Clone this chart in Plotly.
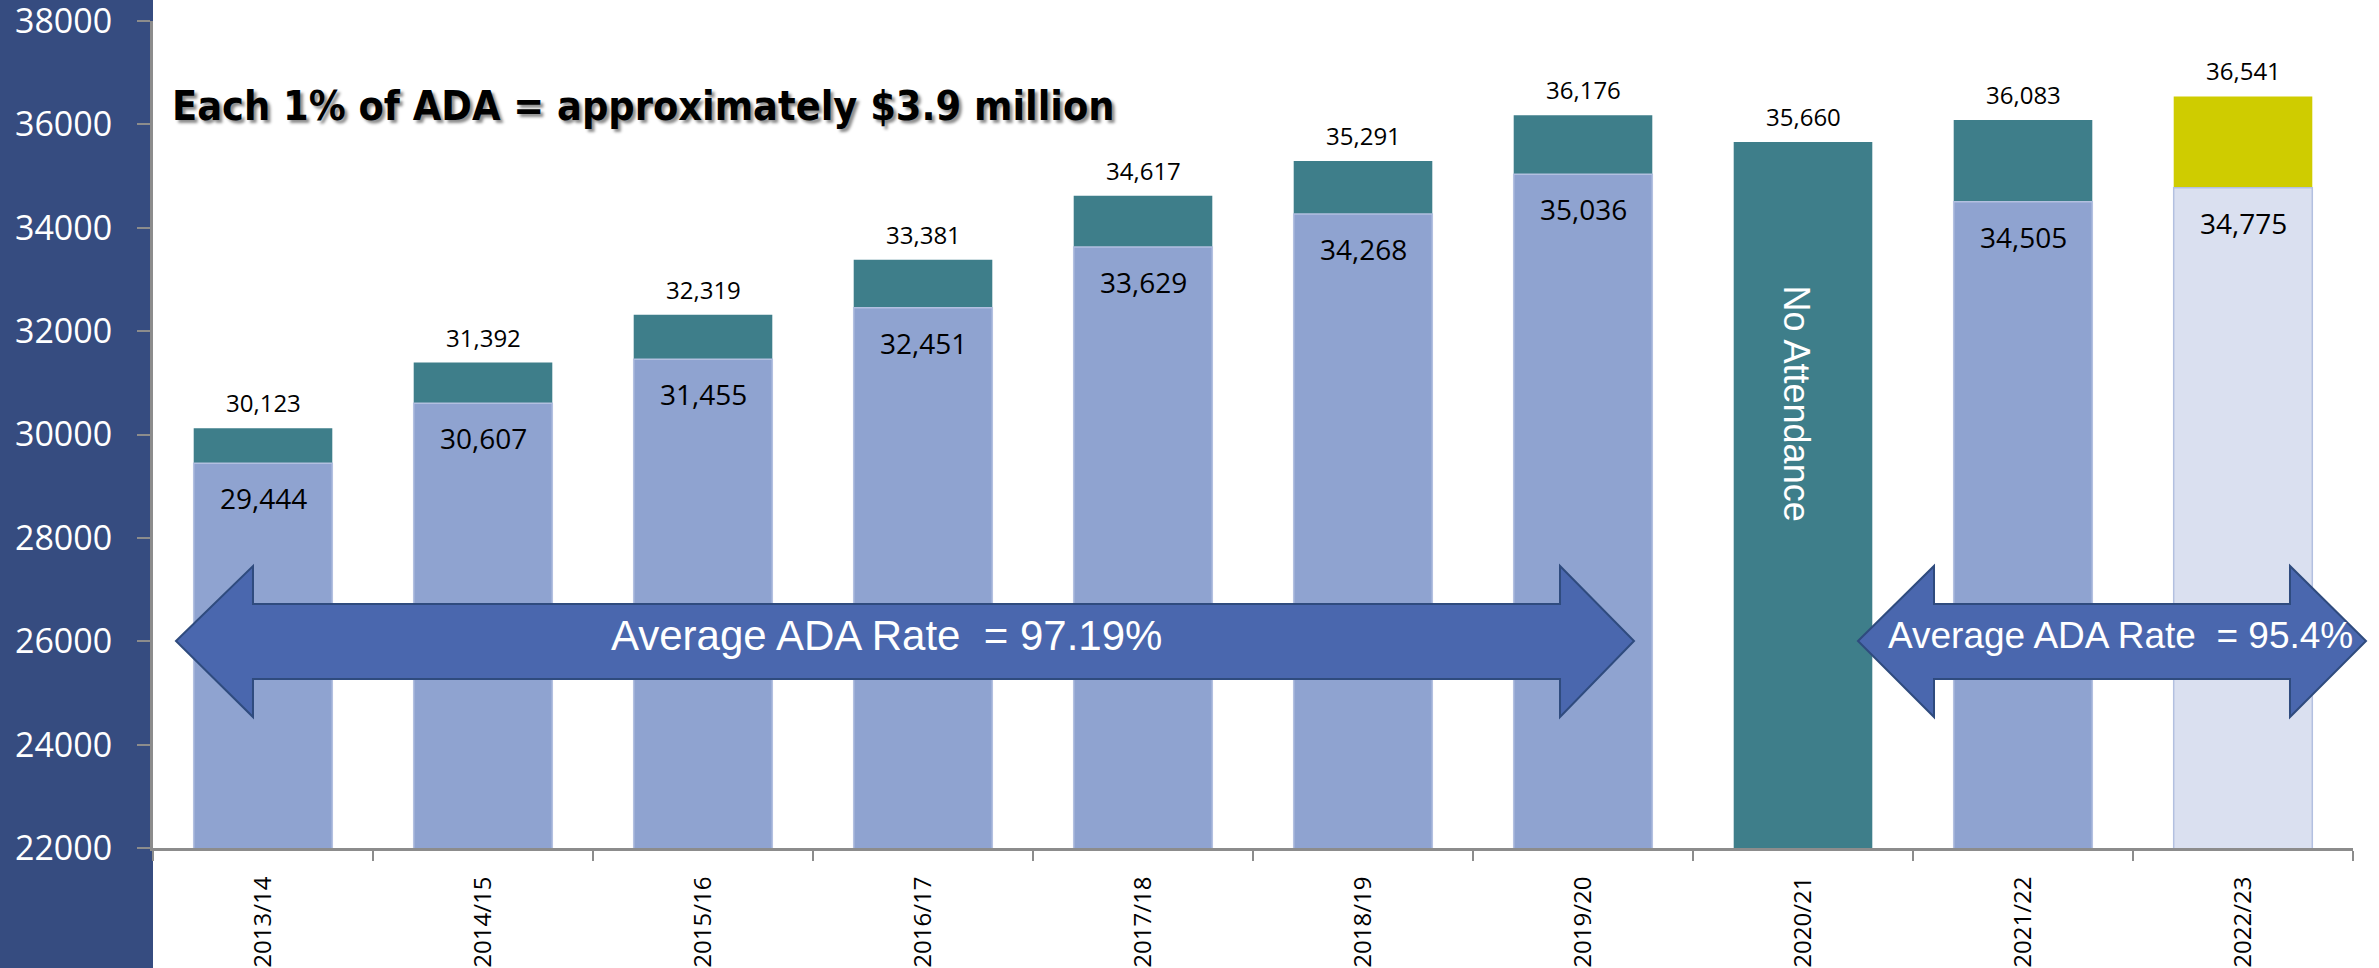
import plotly.graph_objects as go

# school years on the x axis
years = ["2013/14", "2014/15", "2015/16", "2016/17", "2017/18",
         "2018/19", "2019/20", "2020/21", "2021/22", "2022/23"]
# enrollment (top of each bar) and ADA (inner lighter bar)
enrollment = [30123, 31392, 32319, 33381, 34617, 35291, 36176, 35660, 36083, 36541]
ada = [29444, 30607, 31455, 32451, 33629, 34268, 35036, None, 34505, 34775]

y_ticks = list(range(22000, 38001, 2000))

TEAL = "#3E7E8A"
GOLD = "#CFCC00"
LIGHT = "#8FA3D0"
PALE = "#DAE0F0"
PANEL = "#364C80"
ARROW = "#4A67AE"
GRAY = "#8C8C8C"

W, H = 2379, 968
ML, MR, MT, MB = 153, 26, 21, 120
PW, PH = W - ML - MR, H - MT - MB


def px_x(p):
    return (p - ML) / PW


def px_y(p):
    return (H - MB - p) / PH


def arrow_path(xl, xhl, xhr, xr, st, sb, ht, hb, tip):
    pts = [(xl, tip), (xhl, ht), (xhl, st), (xhr, st), (xhr, ht), (xr, tip),
           (xhr, hb), (xhr, sb), (xhl, sb), (xhl, hb)]
    s = "M " + " L ".join(f"{px_x(a):.5f},{px_y(b):.5f}" for a, b in pts) + " Z"
    return s


top_colors = [TEAL] * (len(years) - 1) + [GOLD]
ada_colors = [LIGHT] * (len(years) - 1) + [PALE]

fig = go.Figure()
fig.add_trace(go.Bar(x=years, y=enrollment, width=0.63, marker=dict(color=top_colors, line=dict(width=0)),
                     hoverinfo="x+y", name="Enrollment"))
fig.add_trace(go.Bar(x=years, y=ada, width=0.63,
                     marker=dict(color=ada_colors, line=dict(color="#B3C0E0", width=1.5)),
                     hoverinfo="x+y", name="ADA"))

annotations = []
label_font = "Segoe UI, Open Sans, sans-serif"
for yr, e in zip(years, enrollment):
    annotations.append(dict(x=yr, y=e, text=f"{e:,}", showarrow=False, yanchor="bottom", yshift=7,
                            font=dict(family=label_font, size=24, color="black")))
for yr, a in zip(years, ada):
    if a is None:
        continue
    annotations.append(dict(x=yr, y=a, text=f"{a:,}", showarrow=False, yanchor="top", yshift=-14,
                            font=dict(family=label_font, size=28, color="black")))

# No Attendance text inside the 2020/21 bar
annotations.append(dict(x="2020/21", y=30600, text="No Attendance", showarrow=False, textangle=90,
                        xshift=-6, font=dict(family="Liberation Sans, Arial, sans-serif", size=36, color="white")))

# headline with drop shadow
annotations.append(dict(xref="paper", yref="paper", x=px_x(170), y=px_y(106), xanchor="left",
                        yanchor="middle", text="Each 1% of ADA = approximately $3.9 million", showarrow=False,
                        font=dict(family="Liberation Sans Narrow, Arial Narrow, DejaVu Sans Condensed, sans-serif",
                                  size=41, color="black", weight=700,
                                  shadow="3px 3px 3px rgba(0,0,0,0.45)")))

# arrow captions
annotations.append(dict(xref="paper", yref="paper", x=px_x(886), y=px_y(635), xanchor="center", yanchor="middle",
                        text="Average ADA Rate  = 97.19%", showarrow=False,
                        font=dict(family="Liberation Sans, Arial, sans-serif", size=42, color="white")))
annotations.append(dict(xref="paper", yref="paper", x=px_x(2120), y=px_y(635), xanchor="center", yanchor="middle",
                        text="Average ADA Rate  = 95.4%", showarrow=False,
                        font=dict(family="Liberation Sans, Arial, sans-serif", size=37, color="white")))

shapes = [
    # dark blue panel behind the y axis labels
    dict(type="rect", xref="paper", yref="paper", x0=px_x(0), x1=0, y0=px_y(H), y1=px_y(0),
         fillcolor=PANEL, line=dict(width=0), layer="below"),
    dict(type="path", xref="paper", yref="paper", layer="above",
         path=arrow_path(176, 253, 1560, 1634, 604, 679, 566, 717, 641),
         fillcolor=ARROW, line=dict(color="#2F4B7E", width=2)),
    dict(type="path", xref="paper", yref="paper", layer="above",
         path=arrow_path(1858, 1934, 2290, 2366, 604, 679, 566, 717, 641),
         fillcolor=ARROW, line=dict(color="#2F4B7E", width=2)),
]

fig.update_layout(
    barmode="overlay",
    width=W, height=H, autosize=False,
    margin=dict(l=ML, r=MR, t=MT, b=MB, pad=0),
    plot_bgcolor="white", paper_bgcolor="white",
    showlegend=False,
    annotations=annotations,
    shapes=shapes,
)
fig.update_xaxes(type="category", tickangle=-90, tickfont=dict(family=label_font, size=24, color="black"),
                 ticks="outside", tickson="boundaries", ticklen=10, tickwidth=2, tickcolor=GRAY,
                 showline=True, linecolor=GRAY, linewidth=3, showgrid=False, ticklabelstandoff=16,
                 automargin=False)
fig.update_yaxes(range=[22000, 38000], tickvals=y_ticks, tickformat="d",
                 tickfont=dict(family=label_font, size=34, color="white"),
                 ticks="outside", ticklen=13, tickwidth=2, tickcolor=GRAY,
                 showline=True, linecolor=GRAY, linewidth=3, showgrid=False, zeroline=False,
                 ticklabelstandoff=18, automargin=False, ticklabeloverflow="allow")

fig.write_html("out.html", config={"displayModeBar": False},
               post_script="document.body.style.margin='0';document.body.style.overflow='hidden';")
